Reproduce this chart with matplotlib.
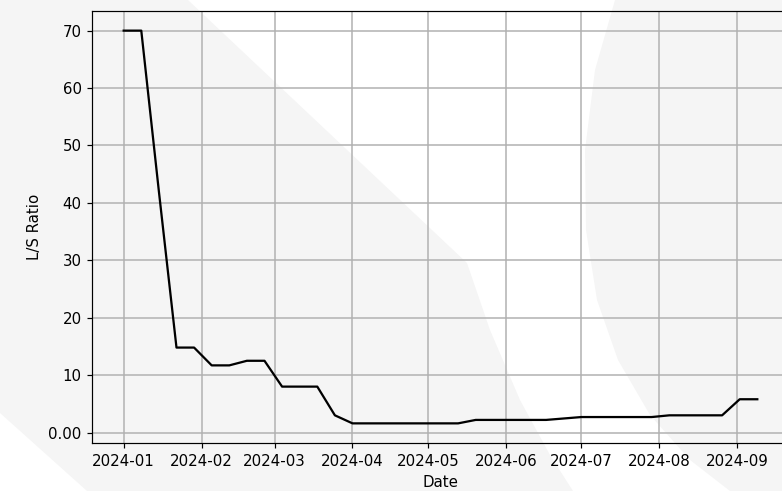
"""
L/S ratio over time, weekly readings
"""

import numpy as np
import pandas as pd
import matplotlib
matplotlib.use("Agg")
import matplotlib.pyplot as plt
from matplotlib.patches import Polygon
from matplotlib.ticker import FuncFormatter

W, H = 782, 491
DPI = 108

dates = pd.date_range("2024-01-01", "2024-09-09", freq="7D")
ls_ratio = [70.0, 70.0, 42.0, 14.8, 14.8, 11.7, 11.7, 12.5, 12.5,
            8.0, 8.0, 8.0, 3.0,
            1.6, 1.6, 1.6, 1.6, 1.6, 1.6, 1.6,
            2.2, 2.2, 2.2, 2.2, 2.2, 2.45,
            2.7, 2.7, 2.7, 2.7, 2.7,
            3.0, 3.0, 3.0, 3.0,
            5.8, 5.8]
y_ticks = [0, 10, 20, 30, 40, 50, 60, 70]

# faint watermark shapes behind the chart (figure pixel coords)
wm_left = [(0, 0), (188, 0), (467, 263), (490, 330), (520, 400), (550, 455),
           (573, 491), (87, 491), (0, 413)]
wm_right = [(615, 0), (595, 70), (585, 150), (586, 230), (597, 300), (618, 360),
            (650, 415), (690, 460), (730, 491), (782, 491), (782, 0)]


def to_fig(pts):
    return [(x / W, 1 - y / H) for x, y in pts]


fig = plt.figure(figsize=(W / DPI, H / DPI), dpi=DPI)
for shape in (wm_left, wm_right):
    fig.add_artist(Polygon(to_fig(shape), closed=True, facecolor="#f5f5f5",
                           edgecolor="none", transform=fig.transFigure, zorder=-10))

# axes runs past the right edge, like the cropped original
ax = fig.add_axes([92 / W, 48 / H, 697 / W, 432 / H])
ax.set_facecolor("none")
ax.plot(dates, ls_ratio, color="black", linewidth=1.5)

ax.set_yticks(y_ticks)
ax.yaxis.set_major_formatter(FuncFormatter(lambda v, p: "0.00" if v == 0 else f"{v:.0f}"))
ax.grid(True, color="#b0b0b0", linewidth=1.0)
ax.set_xlabel("Date")
ax.set_ylabel("L/S Ratio")

fig.savefig("out.png", dpi=DPI)
